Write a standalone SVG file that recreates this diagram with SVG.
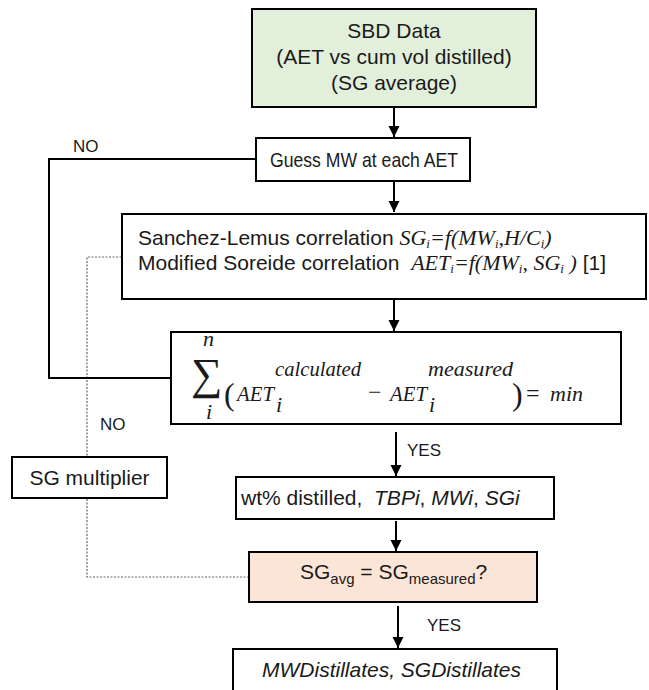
<svg xmlns="http://www.w3.org/2000/svg" width="649" height="690" viewBox="0 0 649 690">
<defs>
<style>
.box{fill:#fff;stroke:#000;stroke-width:2}
.t{font-family:"Liberation Sans",Arial,sans-serif;font-size:21px;fill:#1a1a1a}
.lbl{font-family:"Liberation Sans",Arial,sans-serif;font-size:17px;fill:#1a1a1a}
.m{font-family:"Liberation Serif","Times New Roman",serif;font-style:italic;font-size:22px;fill:#1a1a1a}
.s{font-family:"Liberation Serif","Times New Roman",serif;fill:#1a1a1a}
.conn{stroke:#000;stroke-width:2;fill:none}
.dot{stroke:#666;stroke-width:1.2;stroke-dasharray:2 1.5;fill:none}
</style>
<marker id="ah" viewBox="0 0 10 10" refX="10" refY="5" markerWidth="11" markerHeight="12" markerUnits="userSpaceOnUse" orient="auto">
<path d="M0,0 L10,5 L0,10 z" fill="#000"/>
</marker>
</defs>
<g id="connectors">
<path class="dot" d="M249,577 H87 V257 H122"/>
<path class="conn" d="M171,378 H49 V159 H256"/>
<line class="conn" x1="394" y1="107" x2="394" y2="137" marker-end="url(#ah)"/>
<line class="conn" x1="394" y1="181" x2="394" y2="212" marker-end="url(#ah)"/>
<line class="conn" x1="394" y1="299" x2="394" y2="331" marker-end="url(#ah)"/>
<line class="conn" x1="396" y1="432" x2="396" y2="476" marker-end="url(#ah)"/>
<line class="conn" x1="396" y1="521" x2="396" y2="551" marker-end="url(#ah)"/>
<line class="conn" x1="398" y1="606" x2="398" y2="648" marker-end="url(#ah)"/>
<text class="lbl" x="73" y="152">NO</text>
<text class="lbl" x="100" y="430">NO</text>
<text class="lbl" x="407" y="456">YES</text>
<text class="lbl" x="427" y="631">YES</text>
</g>
<g id="sbd">
<rect x="252" y="9" width="284" height="98" fill="#e2efda" stroke="#000" stroke-width="2"/>
<text class="t" x="394" y="38" text-anchor="middle" font-size="22">SBD Data</text>
<text class="t" x="394" y="64" text-anchor="middle" font-size="22">(AET vs cum vol distilled)</text>
<text class="t" x="394" y="90" text-anchor="middle" font-size="22">(SG average)</text>
</g>
<g id="guess">
<rect class="box" x="256" y="138" width="214" height="43"/>
<text class="t" x="270" y="167" textLength="188" lengthAdjust="spacingAndGlyphs">Guess MW at each AET</text>
</g>
<g id="correlations">
<rect class="box" x="122" y="214" width="524" height="85"/>
<text class="t" x="138" y="245">Sanchez-Lemus correlation <tspan class="m" font-size="23">SG<tspan font-size="13" dy="3">i</tspan><tspan dy="-3">=f(MW</tspan><tspan font-size="13" dy="3">i</tspan><tspan dy="-3">,H/C</tspan><tspan font-size="13" dy="3">i</tspan><tspan dy="-3">)</tspan></tspan></text>
<text class="t" x="138" y="270">Modified Soreide correlation&#160; <tspan class="m" font-size="23">AET<tspan font-size="13" dy="3">i</tspan><tspan dy="-3">=f(MW</tspan><tspan font-size="13" dy="3">i</tspan><tspan dy="-3">, SG</tspan><tspan font-size="13" dy="3">i</tspan><tspan dy="-3"> )</tspan></tspan> [1]</text>
</g>
<g id="sum">
<rect class="box" x="171" y="332" width="450" height="92"/>
<text class="s" x="191" y="389" font-family="DejaVu Serif,serif" font-size="44">∑</text>
<text class="m" x="203" y="346" font-size="16">n</text>
<text class="m" x="206" y="419" font-size="16">i</text>
<text class="s" x="224" y="405" font-size="32">(</text>
<text class="m" x="237" y="401" font-size="24" textLength="37" lengthAdjust="spacingAndGlyphs">AET</text>
<text class="m" x="275" y="376" font-size="17" textLength="86" lengthAdjust="spacingAndGlyphs">calculated</text>
<text class="m" x="276" y="412" font-size="16">i</text>
<text class="s" x="368" y="400" font-size="24">−</text>
<text class="m" x="390" y="401" font-size="24" textLength="37" lengthAdjust="spacingAndGlyphs">AET</text>
<text class="m" x="428" y="376" font-size="17" textLength="85" lengthAdjust="spacingAndGlyphs">measured</text>
<text class="m" x="429" y="412" font-size="16">i</text>
<text class="s" x="512" y="405" font-size="32">)</text>
<text class="s" x="526" y="401" font-size="24">=</text>
<text class="m" x="550" y="401" font-size="26">min</text>
</g>
<g id="sgmult">
<rect class="box" x="12" y="457" width="155" height="41"/>
<text class="t" x="89.5" y="485" text-anchor="middle">SG multiplier</text>
</g>
<g id="wt">
<rect class="box" x="236" y="477" width="318" height="42"/>
<text class="t" x="241" y="505">wt% distilled,&#160; <tspan font-style="italic">TBPi</tspan>, <tspan font-style="italic">MWi</tspan>, <tspan font-style="italic">SGi</tspan></text>
</g>
<g id="sgcheck">
<rect x="249" y="552" width="288" height="50" fill="#fbe5d6" stroke="#000" stroke-width="2"/>
<text class="t" x="300" y="579">SG<tspan font-size="15" dy="5">avg</tspan><tspan dy="-5"> = SG</tspan><tspan font-size="15" dy="5">measured</tspan><tspan dy="-5">?</tspan></text>
</g>
<g id="final">
<rect class="box" x="233" y="649" width="324" height="45"/>
<text class="t" x="262" y="677" font-style="italic">MWDistillates, SGDistillates</text>
</g>
</svg>
